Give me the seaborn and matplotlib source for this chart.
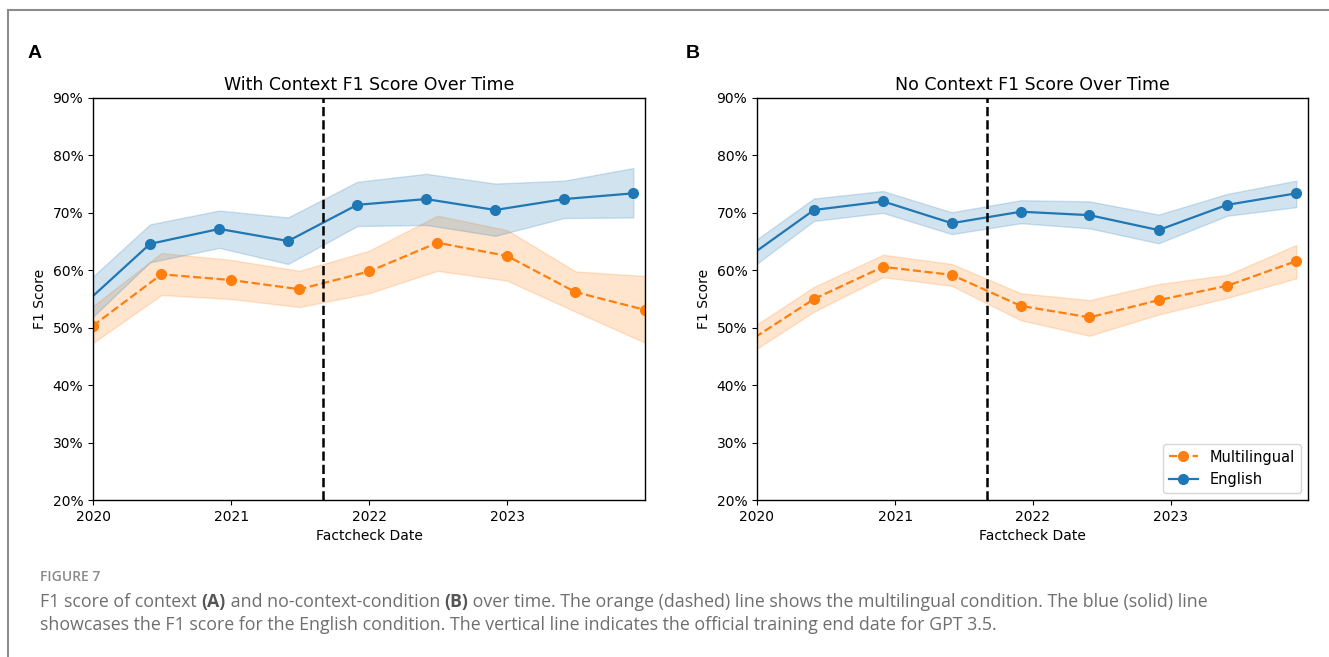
import matplotlib
matplotlib.use("Agg")
import matplotlib.pyplot as plt
import matplotlib.dates as mdates
from matplotlib.ticker import PercentFormatter
from matplotlib.lines import Line2D
import seaborn as sns
import pandas as pd

# ---------------- data (F1 scores, %) ----------------
dates_half_a = ["2019-11-30", "2020-05-31", "2020-11-30", "2021-05-31", "2021-11-30",
                "2022-05-31", "2022-11-30", "2023-05-31", "2023-11-30"]
dates_half_b = ["2019-12-31", "2020-06-30", "2020-12-31", "2021-06-30", "2021-12-31",
                "2022-06-30", "2022-12-31", "2023-06-30", "2023-12-31"]

# Panel A: with context
ctx_en_mean = [53.6, 64.6, 67.2, 65.1, 71.4, 72.4, 70.5, 72.4, 73.4]
ctx_en_hi   = [57.0, 68.0, 70.4, 69.2, 75.4, 76.8, 75.1, 75.6, 77.8]
ctx_en_lo   = [49.9, 61.4, 63.9, 61.1, 67.7, 67.9, 66.0, 69.1, 69.2]
ctx_ml_mean = [50.3, 59.3, 58.3, 56.7, 59.8, 64.8, 62.5, 56.2, 53.1]
ctx_ml_hi   = [53.7, 63.0, 61.8, 59.9, 63.4, 69.5, 67.0, 59.8, 59.0]
ctx_ml_lo   = [47.3, 55.7, 55.0, 53.6, 56.0, 59.9, 58.2, 52.8, 47.4]

# Panel B: no context
noctx_en_mean = [61.9, 70.5, 72.0, 68.2, 70.2, 69.6, 67.0, 71.4, 73.4]
noctx_en_hi   = [63.9, 72.5, 73.8, 70.1, 72.2, 72.0, 69.7, 73.3, 75.6]
noctx_en_lo   = [59.6, 68.6, 70.0, 66.3, 68.2, 67.3, 64.7, 69.5, 71.0]
noctx_ml_mean = [47.2, 55.0, 60.6, 59.2, 53.8, 51.8, 54.8, 57.3, 61.6]
noctx_ml_hi   = [49.2, 57.1, 62.7, 61.1, 56.0, 54.8, 57.6, 59.2, 64.4]
noctx_ml_lo   = [45.0, 52.8, 58.8, 57.3, 51.3, 48.6, 52.3, 55.2, 58.6]

titles = ["With Context F1 Score Over Time", "No Context F1 Score Over Time"]
panel_labels = ["A", "B"]
series_names = ["Multilingual", "English"]
cutoff_date = "2021-09-01"
xlim = ("2020-01-01", "2023-12-31")
ylim = (0.2, 0.9)

BLUE = "#1f77b4"
ORANGE = "#ff7f0e"

W, H = 1329, 657
fig = plt.figure(figsize=(W / 100, H / 100), dpi=100)
fig.patch.set_facecolor("white")

ax_a = fig.add_axes([93 / W, 1 - 500 / H, 552 / W, 402 / H])
ax_b = fig.add_axes([757 / W, 1 - 500 / H, 551 / W, 402 / H])

panels = [
    (ax_a, dates_half_a, dates_half_b,
     (ctx_ml_mean, ctx_ml_lo, ctx_ml_hi), (ctx_en_mean, ctx_en_lo, ctx_en_hi)),
    (ax_b, dates_half_a, dates_half_a,
     (noctx_ml_mean, noctx_ml_lo, noctx_ml_hi), (noctx_en_mean, noctx_en_lo, noctx_en_hi)),
]

for i, (ax, d_en, d_ml, ml, en) in enumerate(panels):
    x_ml = pd.to_datetime(d_ml)
    x_en = pd.to_datetime(d_en)
    m, lo, hi = [[v / 100 for v in arr] for arr in ml]
    ax.fill_between(x_ml, lo, hi, color=ORANGE, alpha=0.2)
    sns.lineplot(x=x_ml, y=m, ax=ax, color=ORANGE, linestyle="--", marker="o",
                 markersize=7, markeredgecolor=ORANGE, markeredgewidth=1,
                 linewidth=1.6, label=series_names[0])
    m, lo, hi = [[v / 100 for v in arr] for arr in en]
    ax.fill_between(x_en, lo, hi, color=BLUE, alpha=0.2)
    sns.lineplot(x=x_en, y=m, ax=ax, color=BLUE, linestyle="-", marker="o",
                 markersize=7, markeredgecolor=BLUE, markeredgewidth=1,
                 linewidth=1.6, label=series_names[1])
    ax.axvline(pd.Timestamp(cutoff_date), color="black", linestyle="--", linewidth=1.8)
    ax.set_xlim(pd.Timestamp(xlim[0]), pd.Timestamp(xlim[1]))
    ax.set_ylim(*ylim)
    ax.yaxis.set_major_formatter(PercentFormatter(1.0, decimals=0))
    ax.xaxis.set_major_locator(mdates.YearLocator())
    ax.xaxis.set_major_formatter(mdates.DateFormatter("%Y"))
    ax.set_title(titles[i], fontsize=12.5)
    ax.set_xlabel("Factcheck Date", fontsize=10)
    ax.set_ylabel("F1 Score", fontsize=10)
    ax.tick_params(labelsize=10)
    for s in ax.spines.values():
        s.set_linewidth(1.0)
    leg = ax.get_legend()
    if i == 0:
        if leg is not None:
            leg.remove()
    else:
        ax.legend(loc="lower right", fontsize=10.5)

# panel letters
fig.text(28 / W, 1 - 54 / H, panel_labels[0], fontsize=14, fontweight="bold",
         family=["Liberation Sans", "DejaVu Sans"], va="center", ha="left")
fig.text(686 / W, 1 - 54 / H, panel_labels[1], fontsize=14, fontweight="bold",
         family=["Liberation Sans", "DejaVu Sans"], va="center", ha="left")

# frame lines
fig.add_artist(Line2D([8 / W, 8 / W], [0, 1 - 10 / H], color="#8c8c8c", lw=1.5,
                      transform=fig.transFigure))
fig.add_artist(Line2D([8 / W, 1], [1 - 10 / H, 1 - 10 / H], color="#8c8c8c", lw=1.5,
                      transform=fig.transFigure))

# caption
CAP_FONT = ["Open Sans", "DejaVu Sans"]
fig.text(40 / W, 1 - 581 / H, "FIGURE 7", fontsize=10, color="#8a8a8a",
         fontweight="semibold", family=CAP_FONT, va="baseline", ha="left")

renderer = fig.canvas.get_renderer()


def rich_line(x_px, y_px, pieces, size=12.8):
    x = x_px
    for txt, weight, color in pieces:
        t = fig.text(x / W, 1 - y_px / H, txt, fontsize=size, fontweight=weight,
                     color=color, family=CAP_FONT, va="baseline", ha="left")
        bb = t.get_window_extent(renderer=renderer)
        x += bb.width


GRAY = "#6e6e6e"
DARK = "#555555"
rich_line(40, 607, [
    ("F1 score of context ", "normal", GRAY),
    ("(A)", "bold", DARK),
    (" and no-context-condition ", "normal", GRAY),
    ("(B)", "bold", DARK),
    (" over time. The orange (dashed) line shows the multilingual condition. The blue (solid) line", "normal", GRAY),
])
rich_line(40, 630, [
    ("showcases the F1 score for the English condition. The vertical line indicates the official training end date for GPT 3.5.", "normal", GRAY),
])

fig.savefig("out.png", dpi=100, facecolor="white")
